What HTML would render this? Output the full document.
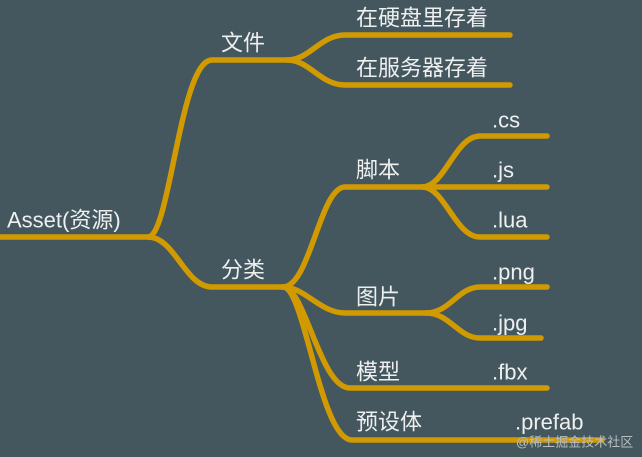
<!DOCTYPE html>
<html><head><meta charset="utf-8"><style>
html,body{margin:0;padding:0;background:#44565e;}
svg{display:block}
text{font-family:"Liberation Sans","Noto Sans CJK SC",sans-serif;fill:#eef0f0;font-size:22px;dominant-baseline:central}
</style></head><body>
<svg width="642" height="457" viewBox="0 0 642 457">
<rect width="642" height="457" fill="#44565e"/>
<g fill="none" stroke="#d19a00" stroke-width="5.5" stroke-linecap="round">
<path d="M0 237 H148"/>
<path d="M148 237 C170 237,180 60,212 60 H287"/>
<path d="M148 237 C175 237,185 287,212 287 H283"/>
<path d="M287 60 C310 60,320 35,345 35 H510"/>
<path d="M287 60 C310 60,320 85,345 85 H510"/>
<path d="M283 287 C310 287,320 187,345 187 H422"/>
<path d="M283 287 C305 287,320 313,345 313 H426"/>
<path d="M283 287 C305 287,320 388,350 388 H547"/>
<path d="M283 287 C305 287,320 440,352 440 H602"/>
<path d="M422 187 C445 187,455 136,480 136 H547"/>
<path d="M422 187 H547"/>
<path d="M422 187 C445 187,455 237,480 237 H547"/>
<path d="M426 313 C450 313,458 287,480 287 H547"/>
<path d="M426 313 C450 313,458 338,480 338 H541"/>
</g>
<text x="7" y="220">Asset(资源)</text>
<text x="221" y="43">文件</text>
<text x="356" y="18">在硬盘里存着</text>
<text x="356" y="68">在服务器存着</text>
<text x="221" y="270">分类</text>
<text x="356" y="170">脚本</text>
<text x="492" y="120">.cs</text>
<text x="492" y="170">.js</text>
<text x="492" y="220">.lua</text>
<text x="492" y="272">.png</text>
<text x="356" y="297">图片</text>
<text x="492" y="323">.jpg</text>
<text x="356" y="372">模型</text>
<text x="492" y="372">.fbx</text>
<text x="356" y="422">预设体</text>
<text x="515" y="422">.prefab</text>
<text x="516" y="442" style="font-size:13px;fill:#b8bec0">@稀土掘金技术社区</text>
</svg>
</body></html>
